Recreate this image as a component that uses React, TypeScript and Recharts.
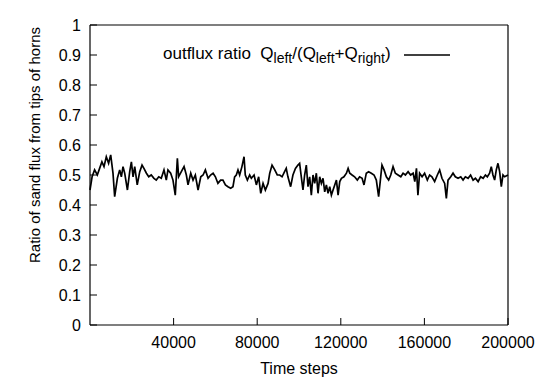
import React from "react";
import { Legend, Line, LineChart, XAxis, YAxis } from "recharts";

// time step of each sample
const steps = [
  0, 1000, 2200, 3500, 4600, 5700, 6700, 7800, 8900, 9900, 11000, 11800, 13100,
  14200, 15000, 15800, 16600, 17900, 19000, 19800, 20600, 21400, 22600, 23800,
  24900, 25800, 27000, 28100, 29300, 30600, 31700, 32900, 34100, 35400, 36500,
  37300, 38600, 39700, 40800, 41800, 42400, 43700, 45000, 46100, 46900, 48200,
  49300, 50400, 51700, 53000, 54100, 55200, 56500, 57700, 58900, 60000, 61200,
  62500, 63600, 64800, 66000, 67300, 68400, 69200, 70000, 70800, 71600, 72700,
  73700, 74300, 75300, 76400, 77200, 78500, 79600, 80700, 81700, 82800, 83900,
  85200, 86000, 87100, 88400, 89600, 90800, 91900, 93100, 93900, 94700, 96000,
  97100, 98300, 99500, 100300, 101100, 101900, 102700, 103500, 104300, 105100,
  105900, 106700, 107500, 108300, 109100, 109900, 110700, 111500, 112300,
  113100, 113900, 114700, 115500, 116300, 117100, 117900, 118700, 119500,
  120300, 121500, 122700, 123500, 124300, 125400, 126600, 127900, 129000,
  130200, 131100, 132200, 133300, 134600, 135900, 137000, 138100, 139100,
  139700, 140700, 141800, 142900, 143900, 145000, 146100, 147400, 148700,
  149800, 150900, 152200, 153400, 154600, 155400, 156200, 156900, 157700,
  158900, 160100, 161400, 162500, 163600, 164900, 166200, 167300, 168400,
  169700, 170500, 171300, 172600, 173700, 174800, 176100, 177400, 178500,
  179600, 180900, 182100, 183300, 184400, 185700, 186900, 188100, 189200,
  190100, 191200, 192000, 192800, 193600, 194400, 195200, 196000, 196800,
  197600, 198400, 200000,
];

// outflux ratio Q_left / (Q_left + Q_right)
const ratio = [
  0.45, 0.494, 0.517, 0.5, 0.522, 0.544, 0.528, 0.561, 0.539, 0.567, 0.506,
  0.428, 0.489, 0.517, 0.494, 0.528, 0.506, 0.45, 0.511, 0.544, 0.494, 0.528,
  0.467, 0.511, 0.533, 0.522, 0.506, 0.494, 0.5, 0.489, 0.483, 0.494, 0.489,
  0.517, 0.483, 0.517, 0.506, 0.483, 0.433, 0.556, 0.494, 0.511, 0.528, 0.5,
  0.467, 0.506, 0.483, 0.5, 0.45, 0.494, 0.5, 0.517, 0.489, 0.5, 0.506, 0.494,
  0.472, 0.483, 0.483, 0.467, 0.461, 0.456, 0.461, 0.494, 0.5, 0.517, 0.5,
  0.528, 0.561, 0.5, 0.483, 0.5, 0.489, 0.5, 0.467, 0.494, 0.439, 0.472, 0.45,
  0.472, 0.506, 0.533, 0.517, 0.5, 0.5, 0.494, 0.511, 0.522, 0.494, 0.461, 0.5,
  0.522, 0.533, 0.539, 0.494, 0.45, 0.5, 0.533, 0.461, 0.494, 0.433, 0.5, 0.472,
  0.506, 0.439, 0.494, 0.472, 0.489, 0.444, 0.467, 0.439, 0.461, 0.433, 0.45,
  0.467, 0.483, 0.433, 0.478, 0.489, 0.494, 0.506, 0.522, 0.506, 0.5, 0.494,
  0.483, 0.494, 0.489, 0.467, 0.506, 0.511, 0.506, 0.5, 0.483, 0.428, 0.494,
  0.533, 0.517, 0.494, 0.483, 0.5, 0.528, 0.506, 0.5, 0.494, 0.506, 0.5, 0.511,
  0.5, 0.506, 0.478, 0.522, 0.433, 0.506, 0.494, 0.506, 0.483, 0.5, 0.494,
  0.478, 0.5, 0.517, 0.489, 0.472, 0.422, 0.483, 0.494, 0.506, 0.494, 0.489,
  0.494, 0.483, 0.494, 0.489, 0.5, 0.483, 0.489, 0.478, 0.494, 0.489, 0.5,
  0.494, 0.506, 0.528, 0.5, 0.483, 0.517, 0.539, 0.511, 0.461, 0.5, 0.494, 0.5,
];

const xTicks = [40000, 80000, 120000, 160000, 200000];
const yTicks = [0, 0.1, 0.2, 0.3, 0.4, 0.5, 0.6, 0.7, 0.8, 0.9, 1];

const data = steps.map((t, i) => ({ t, ratio: ratio[i] }));

const FONT = "'Liberation Sans', Arial, Helvetica, sans-serif";
const tickStyle = { fill: "#000", fontSize: 16, fontFamily: FONT };
const subStyle = { fontSize: 14 };

const LegendBox = () => (
  <div
    style={{
      display: "flex",
      alignItems: "center",
      whiteSpace: "nowrap",
      fontFamily: FONT,
      fontSize: 17,
      color: "#000",
    }}
  >
    <span>
      outflux ratio&nbsp; Q<sub style={subStyle}>left</sub>/(Q
      <sub style={subStyle}>left</sub>+Q<sub style={subStyle}>right</sub>)
    </span>
    <svg width={46} height={4} style={{ marginLeft: 13 }}>
      <line x1={0} y1={2} x2={46} y2={2} stroke="#000" strokeWidth={1.5} />
    </svg>
  </div>
);

const YTitle = (props: any) => {
  const vb = props.viewBox;
  const cy = vb.y + vb.height / 2 - 30;
  return (
    <text
      x={34}
      y={cy}
      transform={`rotate(-90 34 ${cy})`}
      textAnchor="middle"
      dominantBaseline="central"
      fill="#000"
      fontSize={15}
      fontFamily={FONT}
    >
      Ratio of sand flux from tips of horns
    </text>
  );
};

export default function App() {
  return (
    <div style={{ position: "absolute", left: 0, top: 0, background: "#fff" }}>
      <LineChart
        width={540}
        height={377}
        data={data}
        margin={{ top: 24, right: 31, left: 0, bottom: 0 }}
        style={{ fontFamily: FONT }}
      >
        <XAxis
          dataKey="t"
          type="number"
          domain={[0, 200000]}
          ticks={xTicks}
          height={52}
          tickSize={-7}
          tickMargin={19}
          tick={tickStyle}
          axisLine={{ stroke: "#000", strokeWidth: 1.2 }}
          tickLine={{ stroke: "#000" }}
          label={{
            value: "Time steps",
            position: "insideBottom",
            offset: 3,
            fill: "#000",
            fontSize: 16,
            fontFamily: FONT,
          }}
        />
        <XAxis
          xAxisId="top"
          orientation="top"
          type="number"
          domain={[0, 200000]}
          ticks={xTicks}
          height={1}
          tickSize={-7}
          tick={false}
          axisLine={{ stroke: "#000", strokeWidth: 1.2 }}
          tickLine={{ stroke: "#000" }}
        />
        <YAxis
          type="number"
          domain={[0, 1]}
          ticks={yTicks}
          width={90}
          tickSize={-7}
          tickMargin={16}
          tick={tickStyle}
          tickFormatter={(v: number) => String(v)}
          axisLine={{ stroke: "#000", strokeWidth: 1.2 }}
          tickLine={{ stroke: "#000" }}
          label={<YTitle />}
        />
        <YAxis
          yAxisId="right"
          orientation="right"
          type="number"
          domain={[0, 1]}
          ticks={yTicks}
          width={1}
          tickSize={-7}
          tick={false}
          axisLine={{ stroke: "#000", strokeWidth: 1.2 }}
          tickLine={{ stroke: "#000" }}
        />
        <Legend
          layout="horizontal"
          verticalAlign="middle"
          align="center"
          content={<LegendBox />}
          wrapperStyle={{ top: 44, left: 163, width: "auto", height: "auto" }}
        />
        <Line
          dataKey="ratio"
          type="linear"
          stroke="#000"
          strokeWidth={1.7}
          dot={false}
          isAnimationActive={false}
        />
      </LineChart>
    </div>
  );
}
